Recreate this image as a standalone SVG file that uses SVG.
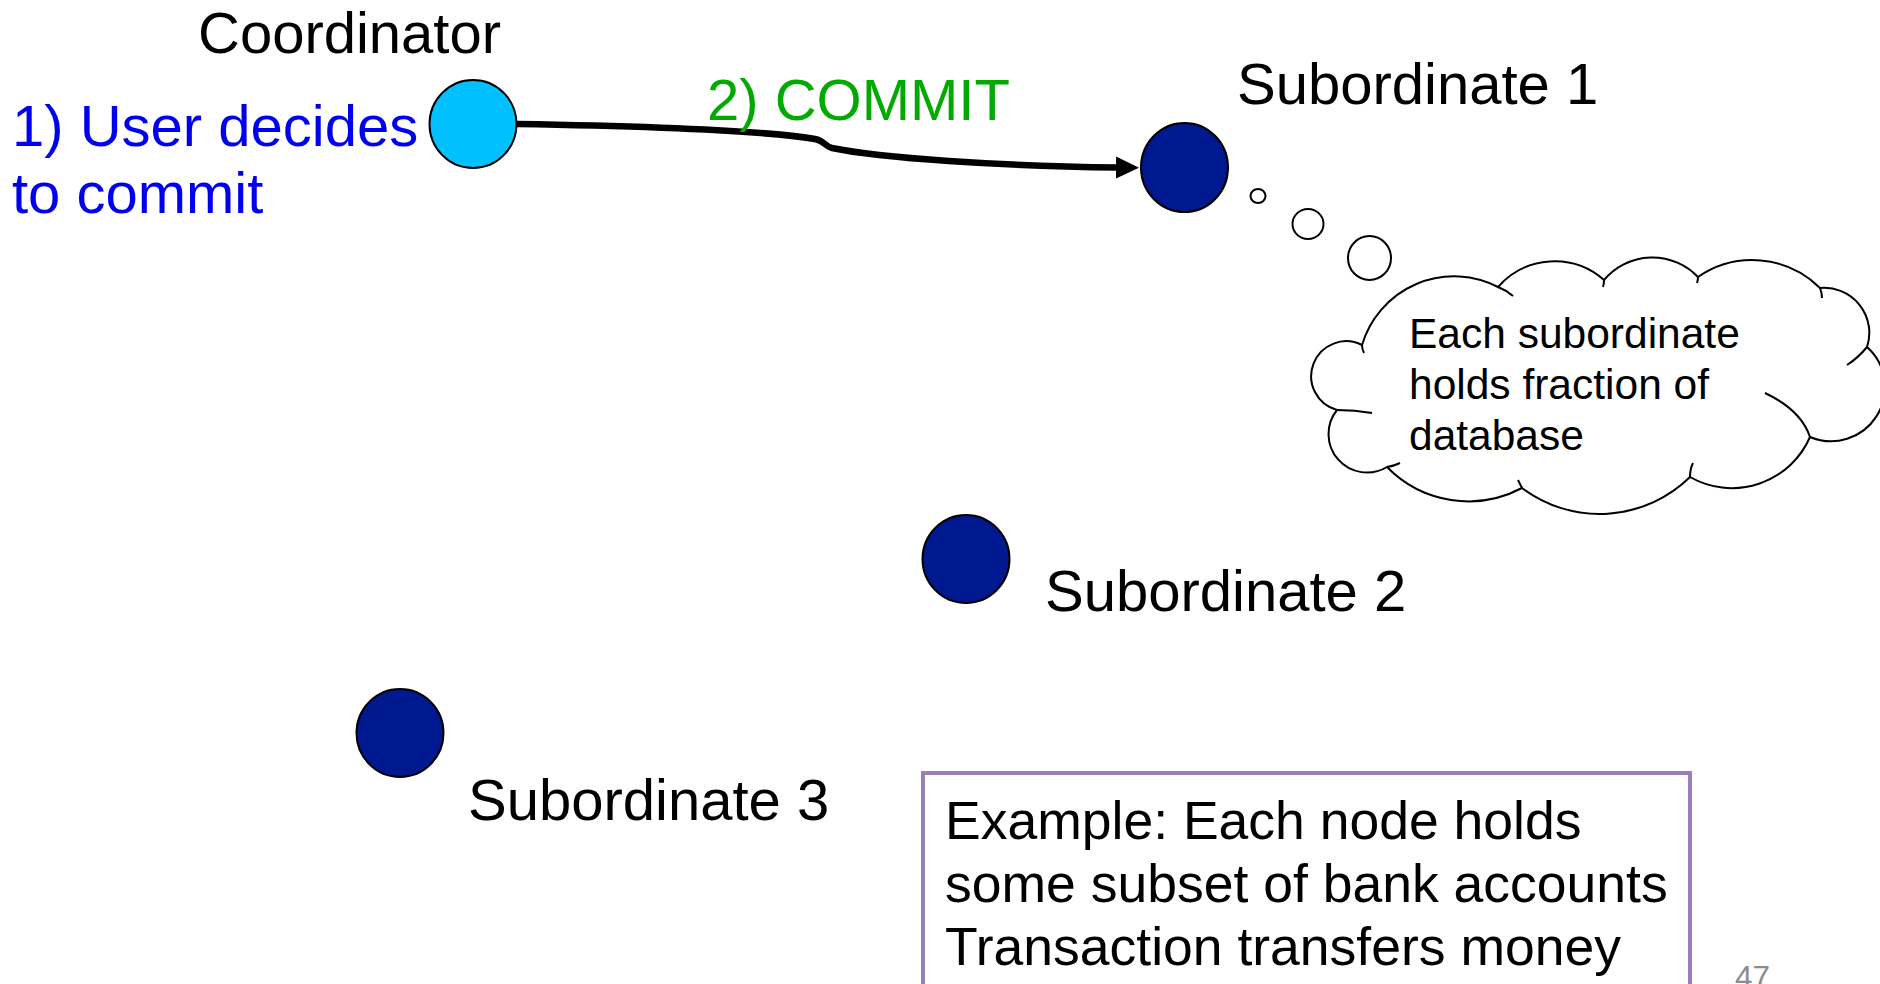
<svg xmlns="http://www.w3.org/2000/svg" width="1880" height="984" viewBox="0 0 1880 984">
  <style>
    text { font-family: "Liberation Sans", Arial, sans-serif; }
    .lbl { font-size: 58px; fill: #000000; }
    .blue { font-size: 58px; fill: #0000F0; }
    .green { font-size: 58px; fill: #00AA00; }
    .note { font-size: 42.5px; fill: #000000; }
    .box-text { font-size: 53.5px; fill: #000000; }
    .node-coord { fill: #00C0FF; stroke: #000000; stroke-width: 2; }
    .node-sub { fill: #001990; stroke: #000000; stroke-width: 2; }
    .bubble { fill: #FFFFFF; stroke: #000000; stroke-width: 2; }
    .conn { fill: none; stroke: #000000; stroke-width: 6.5; }
    .box { fill: #FFFFFF; stroke: #9A7FBA; stroke-width: 4; }
    .pagenum { font-size: 31.5px; fill: #8C8C8C; }
  </style>
  <defs>
    <marker id="arrowhead" markerUnits="userSpaceOnUse" markerWidth="24" markerHeight="24" viewBox="0 0 24 24" refX="2" refY="12" orient="auto">
      <path d="M0,1 L23,12 L0,23 Z" fill="#000000"/>
    </marker>
  </defs>

  <rect width="1880" height="984" fill="#FFFFFF"/>

  <!-- connectors -->
  <g id="connectors">
    <path class="conn" d="M517,124 C640,126 760,130 815,139 C825,141 824,146 832,148 C880,158 1000,166 1118,167.5" marker-end="url(#arrowhead)"/>
  </g>

  <!-- coordinator -->
  <g id="coordinator">
    <text class="lbl" x="198" y="53">Coordinator</text>
    <ellipse class="node-coord" cx="473" cy="124" rx="43.5" ry="44"/>
    <text class="blue" x="12" y="146">1) User decides</text>
    <text class="blue" x="12" y="213">to commit</text>
  </g>

  <!-- commit label on the connector -->
  <g id="commit-label">
    <text class="green" x="707" y="120">2) COMMIT</text>
  </g>

  <!-- subordinate 1 -->
  <g id="subordinate-1">
    <ellipse class="node-sub" cx="1184.5" cy="167.5" rx="43.5" ry="44.5"/>
    <text class="lbl" x="1237" y="104">Subordinate 1</text>
  </g>

  <!-- thought cloud attached to subordinate 1 -->
  <g id="thought-cloud">
    <ellipse class="bubble" cx="1258" cy="196" rx="7.5" ry="7"/>
    <ellipse class="bubble" cx="1308" cy="224" rx="15.5" ry="15"/>
    <ellipse class="bubble" cx="1369.5" cy="258" rx="21.5" ry="22"/>
    <path class="bubble" d="M1362,345
      A96,96 0 0 1 1498,287
      A75,75 0 0 1 1604,280
      A63,63 0 0 1 1698,277
      A96,96 0 0 1 1820,288
      A45,45 0 0 1 1867,347
      A54,54 0 0 1 1810,437
      A85,85 0 0 1 1690,477
      A129,129 0 0 1 1522,488
      A114,114 0 0 1 1387,467
      A38.5,38.5 0 0 1 1337,410
      A35,35 0 1 1 1362,345 Z"/>
    <g fill="none" stroke="#000000" stroke-width="2">
      <path d="M1362,345 Q1362,349 1364,353"/>
      <path d="M1498,287 Q1506,290 1513,296"/>
      <path d="M1604,280 Q1604,284 1603,287"/>
      <path d="M1698,277 Q1698,280 1697,283"/>
      <path d="M1820,288 Q1822,293 1822,298"/>
      <path d="M1867,347 Q1858,358 1847,365"/>
      <path d="M1765,393 Q1801,410 1810,437"/>
      <path d="M1690,477 Q1690,469 1693,463"/>
      <path d="M1522,488 Q1520,484 1518,480"/>
      <path d="M1387,467 Q1394,466 1400,463"/>
      <path d="M1337,410 Q1355,410 1372,413"/>
    </g>
    <text class="note" x="1409" y="348">Each subordinate</text>
    <text class="note" x="1409" y="399">holds fraction of</text>
    <text class="note" x="1409" y="450">database</text>
  </g>

  <!-- subordinate 2 -->
  <g id="subordinate-2">
    <ellipse class="node-sub" cx="966" cy="559" rx="43.5" ry="44"/>
    <text class="lbl" x="1045" y="611">Subordinate 2</text>
  </g>

  <!-- subordinate 3 -->
  <g id="subordinate-3">
    <ellipse class="node-sub" cx="400" cy="733" rx="43.5" ry="44"/>
    <text class="lbl" x="468" y="820">Subordinate 3</text>
  </g>

  <!-- example box -->
  <g id="example-box">
    <rect class="box" x="923" y="773" width="767" height="240"/>
    <text class="box-text" x="945" y="839">Example: Each node holds</text>
    <text class="box-text" x="945" y="902">some subset of bank accounts</text>
    <text class="box-text" x="945" y="965">Transaction transfers money</text>
  </g>

  <!-- slide number, running off the bottom edge -->
  <g id="page-number">
    <text class="pagenum" x="1735" y="988">47</text>
  </g>
</svg>
